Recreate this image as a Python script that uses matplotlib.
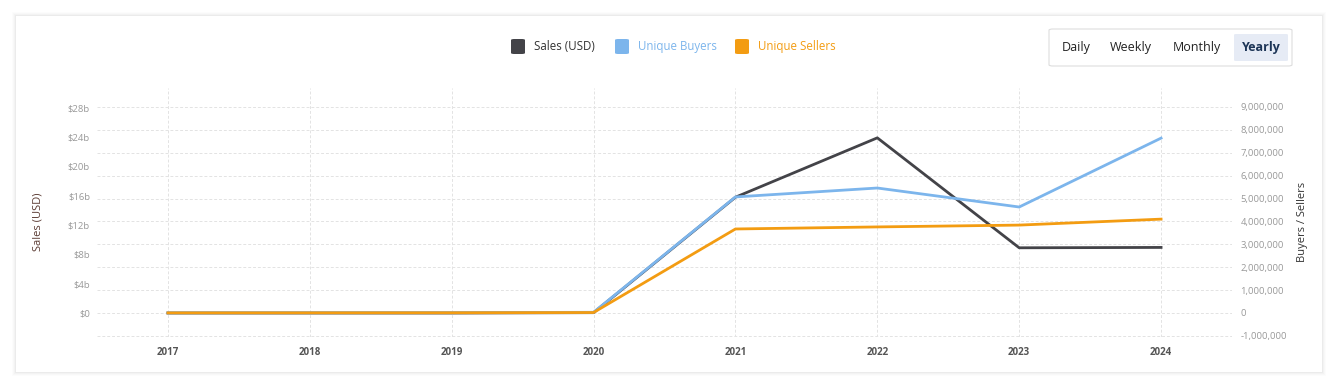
import matplotlib.pyplot as plt
from matplotlib.patches import FancyBboxPatch, Rectangle
from matplotlib.ticker import FuncFormatter

plt.rcParams["font.family"] = ["Open Sans", "DejaVu Sans"]

years = [2017, 2018, 2019, 2020, 2021, 2022, 2023, 2024]
sales_usd = [0.0, 0.0, 0.0, 0.05e9, 15.8e9, 23.9e9, 8.9e9, 8.95e9]
unique_buyers = [5000, 8000, 12000, 30000, 5.07e6, 5.46e6, 4.63e6, 7.64e6]
unique_sellers = [4000, 6000, 9000, 20000, 3.67e6, 3.76e6, 3.84e6, 4.10e6]
periods = ["Daily", "Weekly", "Monthly", "Yearly"]

W, H = 1332, 387
fig = plt.figure(figsize=(W / 100, H / 100), dpi=100)
fig.patch.set_facecolor("white")


def fx(x):
    return x / W


def fy(y):
    return 1 - y / H


# card with a soft shadow
for d, a in [(4, 0.012), (3, 0.015), (2, 0.02), (1, 0.03)]:
    fig.patches.append(Rectangle((fx(16 - d), fy(372 + d)), fx(1306 + 2 * d), (356 + 2 * d) / H,
                                 transform=fig.transFigure, facecolor="#000000", alpha=a,
                                 edgecolor="none", zorder=0))
fig.patches.append(Rectangle((fx(16), fy(372)), fx(1306), 356 / H, transform=fig.transFigure,
                             facecolor="white", edgecolor="none", zorder=0))

RIGHT_LIM = (-1.05e6, 9.83e6)

ax = fig.add_axes([fx(97), fy(337), fx(1232 - 97), (337 - 88) / H])
ax2 = ax.twinx()   # right ticks + horizontal grid (bottom layer)
ax3 = ax.twinx()   # buyers / sellers lines (top layer)
ax2.set_zorder(1)
ax.set_zorder(2)
ax3.set_zorder(3)
for a in (ax, ax2, ax3):
    a.patch.set_visible(False)
    for s in a.spines.values():
        s.set_visible(False)

ax.plot(years, sales_usd, color="#434348", lw=2.0)
ax3.plot(years, unique_buyers, color="#7cb5ec", lw=2.0)
ax3.plot(years, unique_sellers, color="#f39c12", lw=2.0)

ax.set_xlim(2016.5, 2024.5)
ax.set_ylim(-3.27e9, 30.7e9)
ax2.set_ylim(*RIGHT_LIM)
ax3.set_ylim(*RIGHT_LIM)
ax3.set_yticks([])

ax.set_xticks(years)
ax.set_xticklabels([str(y) for y in years], fontweight="bold")
ax.set_yticks([v * 1e9 for v in range(0, 29, 4)])
ax.yaxis.set_major_formatter(FuncFormatter(lambda v, p: "$%db" % round(v / 1e9) if v else "$0"))
ax2.set_yticks([v * 1e6 for v in range(-1, 10)])
ax2.yaxis.set_major_formatter(FuncFormatter(lambda v, p: "{:,.0f}".format(v)))

for a in (ax, ax2):
    a.tick_params(length=0, labelsize=6.8, labelcolor="#999999")
ax.tick_params(axis="y", pad=5)
ax.tick_params(axis="x", pad=7, labelsize=7, labelcolor="#555555")
ax2.tick_params(axis="y", pad=6)

ax2.grid(axis="y", color="#e3e3e3", lw=0.7, ls=(0, (3, 2)))
ax.grid(axis="x", color="#e3e3e3", lw=0.7, ls=(0, (3, 2)))
ax.set_axisbelow(True)

fig.text(fx(38), fy(222), "Sales (USD)", rotation=90, ha="center", va="center",
         fontsize=8, color="#5b3b33")
fig.text(fx(1302), fy(222), "Buyers / Sellers", rotation=90, ha="center", va="center",
         fontsize=8, color="#333333")

# legend
legend_items = [(510, "Sales (USD)", "#434348", "#333333"),
                (614, "Unique Buyers", "#7cb5ec", "#7cb5ec"),
                (734, "Unique Sellers", "#f39c12", "#f39c12")]
for x0, label, c, tc in legend_items:
    fig.patches.append(FancyBboxPatch((fx(x0 + 1), fy(54)), fx(14), 15 / H,
                                      boxstyle="round,pad=0.0,rounding_size=0.0025",
                                      transform=fig.transFigure,
                                      facecolor=c, edgecolor="none"))
    fig.text(fx(x0 + 24), fy(46.5), label, fontsize=8.3, color=tc, va="center", ha="left")

# period buttons
fig.patches.append(FancyBboxPatch((fx(1049), fy(66)), fx(243), 37 / H,
                                  boxstyle="round,pad=0.0,rounding_size=0.003",
                                  transform=fig.transFigure, facecolor="white",
                                  edgecolor="#dddddd", lw=0.8))
fig.patches.append(FancyBboxPatch((fx(1234), fy(61)), fx(54), 27 / H,
                                  boxstyle="round,pad=0.0,rounding_size=0.002",
                                  transform=fig.transFigure, facecolor="#e6ebf5",
                                  edgecolor="none"))
for xc, p in zip([1076, 1131, 1197, 1261], periods):
    fig.text(fx(xc), fy(47), p, fontsize=9, ha="center", va="center",
             color="#1d3557" if p == "Yearly" else "#222222",
             fontweight="bold" if p == "Yearly" else "normal")

fig.savefig("out.png", dpi=100)
